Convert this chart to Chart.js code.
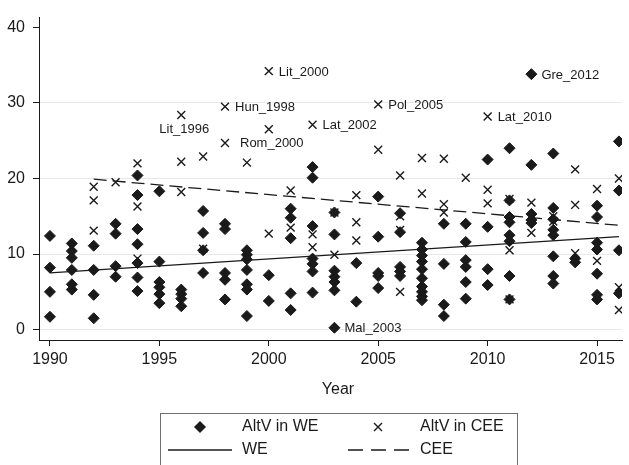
<!DOCTYPE html>
<html>
<head>
<meta charset="utf-8">
<script src="https://cdn.jsdelivr.net/npm/chart.js@4.4.0/dist/chart.umd.min.js"></script>
<style>
    html, body { margin: 0; padding: 0; background: #fff; }
    #wrap { width: 629px; height: 465px; position: relative; }
</style>
</head>
<body>
<div id="wrap"><canvas id="altvChart" width="629" height="465"></canvas></div>
<script>
// Data
const weYears = [1990, 1991, 1992, 1993, 1994, 1995, 1996, 1997, 1998, 1999, 2000, 2001, 2002,
    2003, 2004, 2005, 2006, 2007, 2008, 2009, 2010, 2011, 2012, 2013, 2014, 2015, 2016];
const weValues = [
    [12.4, 8.2, 5.0, 1.7],
    [11.4, 10.4, 9.5, 7.9, 6.0, 5.3],
    [11.1, 7.9, 4.6, 1.5],
    [14.0, 12.7, 8.4, 7.0],
    [20.4, 17.8, 13.3, 11.3, 8.8, 6.9, 5.1],
    [18.3, 9.0, 6.3, 5.6, 4.7, 3.5],
    [5.3, 4.7, 4.1, 3.1],
    [15.7, 12.8, 10.5, 7.5],
    [14.0, 13.3, 7.5, 6.6, 4.0],
    [10.5, 9.9, 9.3, 7.9, 6.0, 5.3, 1.8],
    [7.2, 3.8],
    [16.0, 14.8, 12.1, 4.8, 2.6],
    [21.5, 20.1, 13.7, 9.4, 8.7, 7.7, 4.9],
    [15.5, 12.6, 7.8, 7.0, 6.3, 5.2, 0.25],
    [8.8, 3.7],
    [17.6, 12.3, 7.5, 7.1, 5.5],
    [15.4, 12.9, 8.3, 7.7, 7.1],
    [11.5, 10.6, 9.8, 9.0, 8.0, 6.8, 5.7, 5.0, 4.4, 3.9],
    [14.0, 8.7, 3.3, 1.8],
    [14.0, 11.6, 9.2, 8.3, 6.3, 4.1],
    [22.5, 13.6, 8.0, 5.9],
    [24.0, 17.1, 14.9, 14.2, 12.5, 11.7, 7.1, 4.0],
    [33.8, 21.8, 15.3, 14.5, 14.1],
    [23.3, 16.1, 14.6, 13.2, 12.5, 9.7, 7.1, 6.1],
    [9.4, 8.9],
    [16.4, 14.9, 11.5, 10.6, 7.4, 4.6, 4.0],
    [24.9, 18.4, 10.5, 4.8]
];

const ceeYears = [1992, 1993, 1994, 1996, 1997, 1998, 1999, 2000, 2001, 2002, 2003, 2004,
    2005, 2006, 2007, 2008, 2009, 2010, 2011, 2012, 2013, 2014, 2015, 2016];
const ceeValues = [
    [18.9, 17.1, 13.1],
    [19.5],
    [22.0, 16.3, 9.4],
    [28.4, 22.2, 18.2],
    [22.9, 10.7],
    [29.5, 24.7],
    [22.1],
    [34.2, 26.5, 12.7],
    [18.4, 13.5],
    [27.1, 12.6, 10.9],
    [15.5, 9.9],
    [17.8, 14.2, 11.8],
    [29.8, 23.8],
    [20.4, 15.0, 13.2, 5.0],
    [22.7, 18.0],
    [22.6, 16.6, 15.5],
    [20.1],
    [28.2, 18.5, 16.7],
    [17.3, 10.5, 4.0],
    [16.8, 12.8],
    [15.0, 14.3],
    [21.2, 16.5, 10.1],
    [18.6, 9.1],
    [20.0, 5.6, 2.6]
];

// fitted lines (end points)
const weLineX = [1990, 2016];
const weLineY = [7.5, 12.3];
const ceeLineX = [1992, 2016];
const ceeLineY = [19.9, 13.8];

// marker labels
const labelNames = ['Lit_1996', 'Hun_1998', 'Lit_2000', 'Rom_2000', 'Lat_2002', 'Mal_2003', 'Pol_2005', 'Lat_2010', 'Gre_2012'];
const labelYears = [1996, 1998, 2000, 2000, 2002, 2003, 2005, 2010, 2012];
const labelValues = [28.4, 29.5, 34.2, 26.5, 27.1, 0.25, 29.8, 28.2, 33.8];
const labelPos = ['below', 'right', 'right', 'below', 'right', 'right', 'right', 'right', 'right'];

const xTicks = [1990, 1995, 2000, 2005, 2010, 2015];
const yTicks = [0, 10, 20, 30, 40];

const FONT = "'Liberation Sans', Arial, Helvetica, sans-serif";
const INK = '#1a1a1a';

function toPoints(years, values) {
    const pts = [];
    years.forEach((yr, i) => {
        values[i].forEach(v => pts.push({ x: yr, y: v }));
    });
    return pts;
}

function toLine(xs, ys) {
    return xs.map((x, i) => ({ x: x, y: ys[i] }));
}

// labels, axis title and the boxed legend
const extrasPlugin = {
    id: 'extras',
    afterDraw(chart) {
        const ctx = chart.ctx;
        const xs = chart.scales.x;
        const ys = chart.scales.y;
        ctx.save();
        ctx.fillStyle = INK;

        // marker labels
        ctx.font = '13px ' + FONT;
        labelNames.forEach((name, i) => {
            const px = xs.getPixelForValue(labelYears[i]);
            const py = ys.getPixelForValue(labelValues[i]);
            ctx.textBaseline = 'middle';
            if (labelPos[i] === 'below') {
                ctx.textAlign = 'center';
                ctx.fillText(name, px + 3, py + 14);
            } else {
                ctx.textAlign = 'left';
                ctx.fillText(name, px + 10, py + 1);
            }
        });

        // x axis title
        ctx.font = '16px ' + FONT;
        ctx.textAlign = 'center';
        ctx.textBaseline = 'middle';
        ctx.fillText('Year', 338, 390);

        // legend box
        ctx.strokeStyle = '#6e6e6e';
        ctx.lineWidth = 1;
        ctx.strokeRect(160.5, 413.5, 357, 70);

        ctx.textAlign = 'left';
        const row1 = 427, row2 = 450;
        // diamond
        ctx.beginPath();
        ctx.moveTo(200 - 6, row1);
        ctx.lineTo(200, row1 - 6);
        ctx.lineTo(200 + 6, row1);
        ctx.lineTo(200, row1 + 6);
        ctx.closePath();
        ctx.fill();
        ctx.fillText('AltV in WE', 242, row1);
        // cross
        ctx.strokeStyle = INK;
        ctx.lineWidth = 1.4;
        ctx.beginPath();
        ctx.moveTo(378 - 4, row1 - 4); ctx.lineTo(378 + 4, row1 + 4);
        ctx.moveTo(378 + 4, row1 - 4); ctx.lineTo(378 - 4, row1 + 4);
        ctx.stroke();
        ctx.fillText('AltV in CEE', 420, row1);
        // solid line
        ctx.lineWidth = 1.3;
        ctx.beginPath();
        ctx.moveTo(168, row2); ctx.lineTo(232, row2);
        ctx.stroke();
        ctx.fillText('WE', 242, row2);
        // dashed line
        ctx.setLineDash([15, 8]);
        ctx.beginPath();
        ctx.moveTo(348, row2); ctx.lineTo(410, row2);
        ctx.stroke();
        ctx.setLineDash([]);
        ctx.fillText('CEE', 420, row2);

        ctx.restore();
    }
};

const ctx = document.getElementById('altvChart').getContext('2d');
new Chart(ctx, {
    type: 'scatter',
    data: {
        datasets: [
            {
                label: 'WE',
                data: toLine(weLineX, weLineY),
                showLine: true,
                borderColor: INK,
                borderWidth: 1.3,
                pointRadius: 0
            },
            {
                label: 'CEE',
                data: toLine(ceeLineX, ceeLineY),
                showLine: true,
                borderColor: INK,
                borderWidth: 1.3,
                borderDash: [13, 6],
                pointRadius: 0
            },
            {
                label: 'AltV in WE',
                data: toPoints(weYears, weValues),
                pointStyle: 'rectRot',
                pointRadius: 5.5,
                backgroundColor: INK,
                borderColor: INK,
                borderWidth: 1
            },
            {
                label: 'AltV in CEE',
                data: toPoints(ceeYears, ceeValues),
                pointStyle: 'crossRot',
                pointRadius: 5.6,
                borderColor: INK,
                borderWidth: 1.4
            }
        ]
    },
    options: {
        responsive: false,
        animation: false,
        devicePixelRatio: 1,
        layout: { padding: { top: 7, left: 0, right: 0, bottom: 0 } },
        plugins: {
            legend: { display: false },
            tooltip: { enabled: false }
        },
        scales: {
            x: {
                type: 'linear',
                min: 1989.5,
                max: 2016.14,
                afterBuildTicks: s => { s.ticks = xTicks.map(v => ({ value: v })); },
                afterFit: s => { s.height = 125; },
                grid: { drawOnChartArea: false, drawTicks: true, tickLength: 6, tickColor: INK },
                border: { color: INK, width: 1 },
                ticks: {
                    font: { family: FONT, size: 16 },
                    color: INK,
                    padding: 4,
                    maxRotation: 0,
                    autoSkip: false,
                    callback: v => String(v)
                }
            },
            y: {
                type: 'linear',
                min: -1.37,
                max: 41.28,
                afterBuildTicks: s => { s.ticks = yTicks.map(v => ({ value: v })); },
                afterFit: s => { s.width = 39; },
                grid: {
                    color: c => (c.tick && c.tick.value === 40) ? 'rgba(0,0,0,0)' : '#e8e8e8',
                    tickColor: INK,
                    tickLength: 6,
                    lineWidth: 1
                },
                border: { color: INK, width: 1 },
                ticks: {
                    font: { family: FONT, size: 16 },
                    color: INK,
                    padding: 8,
                    callback: v => String(v)
                }
            }
        }
    },
    plugins: [extrasPlugin]
});
</script>
</body>
</html>
